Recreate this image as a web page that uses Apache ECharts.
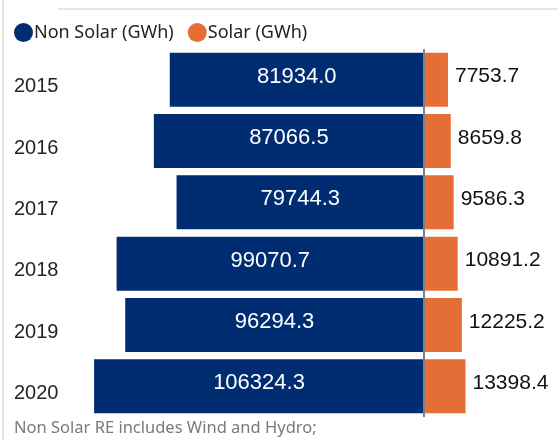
<!DOCTYPE html>
<html>
<head>
<meta charset="utf-8">
<script src="https://cdn.jsdelivr.net/npm/echarts@6/dist/echarts.min.js"></script>
<style>
    html, body { margin: 0; padding: 0; background: #fff; }
    #chart { width: 557px; height: 440px; }
</style>
</head>
<body>
<div id="chart"></div>
<script>
    // data
    var years = ['2015', '2016', '2017', '2018', '2019', '2020'];
    var nonSolar = [81934.0, 87066.5, 79744.3, 99070.7, 96294.3, 106324.3];
    var solar = [7753.7, 8659.8, 9586.3, 10891.2, 12225.2, 13398.4];

    var myChart = echarts.init(document.getElementById('chart'));

    myChart.setOption({
        animation: false,
        legend: {
            left: 9,
            top: 18,
            itemGap: 14,
            itemWidth: 19,
            itemHeight: 19,
            icon: 'circle',
            textStyle: { fontFamily: 'Noto Sans', fontSize: 18, color: '#252423', padding: [0, 0, 0, -4] },
            data: ['Non Solar (GWh)', 'Solar (GWh)']
        },
        grid: { left: 61, right: 9, top: 49, bottom: 23 },
        xAxis: {
            type: 'value',
            min: -117000,
            max: 40000,
            show: false
        },
        yAxis: {
            type: 'category',
            inverse: true,
            data: years,
            axisLine: { show: false },
            axisTick: { show: false },
            axisLabel: {
                align: 'left',
                verticalAlign: 'top',
                lineHeight: 14,
                margin: 47,
                fontFamily: 'Arial',
                fontSize: 20,
                color: '#252423'
            }
        },
        series: [
            {
                name: 'Non Solar (GWh)',
                type: 'bar',
                stack: 'all',
                barCategoryGap: '12%',
                itemStyle: { color: '#002D72' },
                data: nonSolar.map(function (v) { return -v; }),
                label: {
                    show: true,
                    position: 'inside',
                    offset: [0, -3],
                    fontFamily: 'Arial',
                    fontSize: 22,
                    color: '#fff',
                    formatter: function (p) { return (-p.value).toFixed(1); }
                }
            },
            {
                name: 'Solar (GWh)',
                type: 'bar',
                stack: 'all',
                itemStyle: { color: '#E56E37' },
                data: solar,
                label: {
                    show: true,
                    position: 'right',
                    distance: 7,
                    offset: [0, -3],
                    fontFamily: 'Arial',
                    fontSize: 21,
                    color: '#111',
                    formatter: function (p) { return p.value.toFixed(1); }
                },
                markLine: {
                    silent: true,
                    symbol: 'none',
                    label: { show: false },
                    lineStyle: { color: '#808080', width: 2, type: 'solid' },
                    data: [{ xAxis: 0 }]
                }
            }
        ],
        graphic: [
            { type: 'rect', shape: { x: 2, y: 0, width: 2, height: 440 }, style: { fill: '#e6e6e6' } },
            { type: 'rect', shape: { x: 58, y: 8, width: 499, height: 2 }, style: { fill: '#e6e6e6' } },
            {
                type: 'text', left: 14, top: 420,
                style: { text: 'Non Solar RE includes Wind and Hydro;', font: '16.5px "Noto Sans"', fill: '#7a7a7a' }
            }
        ]
    });
</script>
</body>
</html>
